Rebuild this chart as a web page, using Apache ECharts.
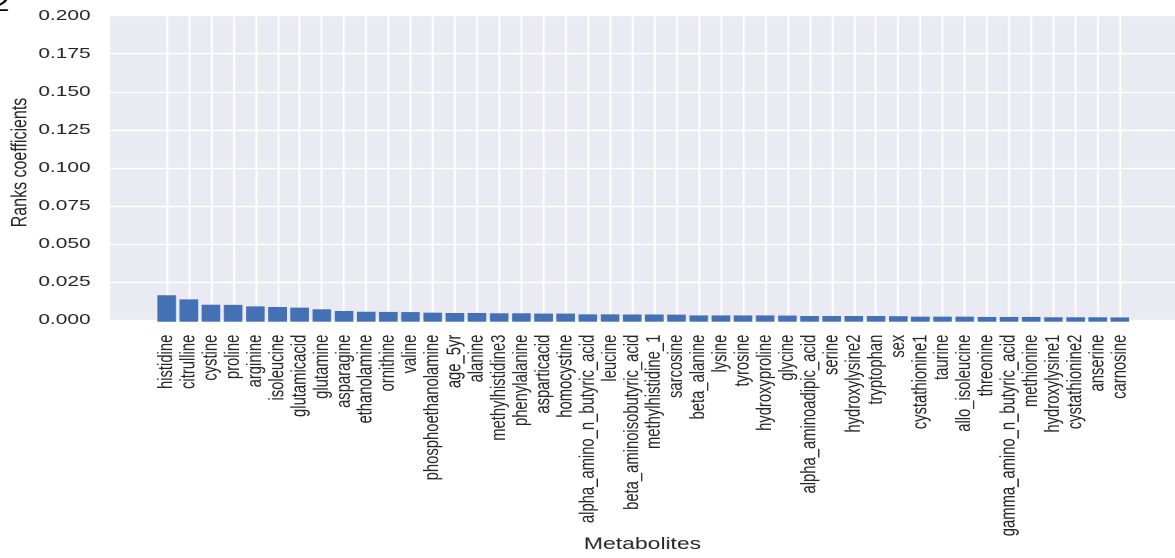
<!DOCTYPE html>
<html>
<head>
<meta charset="utf-8">
<script src="https://cdn.jsdelivr.net/npm/echarts@6/dist/echarts.min.js"></script>
<style>
  html, body { margin: 0; padding: 0; background: #ffffff; overflow: hidden; width: 1175px; height: 558px; }
  #chart { position: absolute; left: 0; top: 0; width: 846px; height: 558px; transform: scaleX(1.3889); transform-origin: 0 0; }
</style>
</head>
<body>
<div id="chart"></div>
<script>
const categories = [
  'histidine', 'citrulline', 'cystine', 'proline', 'arginine', 'isoleucine', 'glutamicacid', 'glutamine',
  'asparagine', 'ethanolamine', 'ornithine', 'valine', 'phosphoethanolamine', 'age_5yr', 'alanine',
  'methylhistidine3', 'phenylalanine', 'asparticacid', 'homocystine', 'alpha_amino_n_butyric_acid', 'leucine',
  'beta_aminoisobutyric_acid', 'methylhistidine_1', 'sarcosine', 'beta_alanine', 'lysine', 'tyrosine',
  'hydroxyproline', 'glycine', 'alpha_aminoadipic_acid', 'serine', 'hydroxylysine2', 'tryptophan', 'sex',
  'cystathionine1', 'taurine', 'allo_isoleucine', 'threonine', 'gamma_amino_n_butyric_acid', 'methionine',
  'hydroxylysine1', 'cystathionine2', 'anserine', 'carnosine'
];
const values = [
  0.0173, 0.0146, 0.0111, 0.0110, 0.0100, 0.0096, 0.0092, 0.0081,
  0.0070, 0.0065, 0.0064, 0.0063, 0.0059, 0.0057, 0.0057,
  0.0055, 0.0055, 0.0053, 0.0053, 0.0048, 0.0048,
  0.0047, 0.0047, 0.0046, 0.0041, 0.0041, 0.0041,
  0.0041, 0.0040, 0.0037, 0.0037, 0.0037, 0.0037, 0.0036,
  0.0033, 0.0033, 0.0033, 0.0031, 0.0031, 0.0031,
  0.0029, 0.0029, 0.0029, 0.0028
];
const yMin = 0, yMax = 0.2, yStep = 0.025;
const xTitle = 'Metabolites';
const yTitle = 'Ranks coefficients';
const panelLabel = '2';

const FONT = '"Liberation Sans", Arial, Helvetica, sans-serif';
const TXT = '#262626';

const chart = echarts.init(document.getElementById('chart'), null, { renderer: 'canvas', devicePixelRatio: 2 });
chart.setOption({
  backgroundColor: '#ffffff',
  animation: false,
  textStyle: { fontFamily: FONT },
  grid: [
    { left: 79.2, top: 15.7, width: 768.2, height: 306, show: true, backgroundColor: '#EAEAF2', borderWidth: 0 },
    { left: 112.0, top: 15.7, width: 702.3, height: 306 }
  ],
  xAxis: [
    {
      type: 'value', gridIndex: 0, min: 0, max: 1,
      axisLine: { show: false }, axisTick: { show: false }, axisLabel: { show: false }, splitLine: { show: false },
      name: xTitle, nameLocation: 'middle', nameGap: 216,
      nameTextStyle: { fontSize: 16.5, color: TXT, fontFamily: FONT }
    },
    {
      type: 'category', gridIndex: 1, data: categories,
      axisLine: { show: false }, axisTick: { show: false },
      axisLabel: { rotate: 90, interval: 0, margin: 13, fontSize: 14.8, color: TXT, fontFamily: FONT },
      splitLine: { show: true, alignWithLabel: true, lineStyle: { color: '#ffffff', width: 1.4 } }
    }
  ],
  yAxis: [
    {
      type: 'value', gridIndex: 0, min: yMin, max: yMax, interval: yStep,
      axisLine: { show: false }, axisTick: { show: false },
      axisLabel: { margin: 14, fontSize: 15, color: TXT, fontFamily: FONT, formatter: v => v.toFixed(3) },
      splitLine: { show: true, lineStyle: { color: '#ffffff', width: 1.4 } }
    },
    { type: 'value', gridIndex: 1, min: yMin, max: yMax, show: false, splitLine: { show: false } }
  ],
  series: [
    {
      type: 'bar', xAxisIndex: 1, yAxisIndex: 1, data: values, barWidth: '84%',
      itemStyle: { color: '#4470b4' }
    }
  ],
  graphic: [
    {
      type: 'text', x: 14.6, y: 162.5, rotation: Math.PI / 2,
      style: { text: yTitle, fontSize: 16, fill: TXT, fontFamily: FONT, align: 'center', verticalAlign: 'middle' }
    },
    {
      type: 'text', x: 6.8, y: 4.5,
      style: { text: panelLabel, fontSize: 24, fill: '#000000', fontFamily: FONT, align: 'right', verticalAlign: 'middle' }
    }
  ]
});
</script>
</body>
</html>
